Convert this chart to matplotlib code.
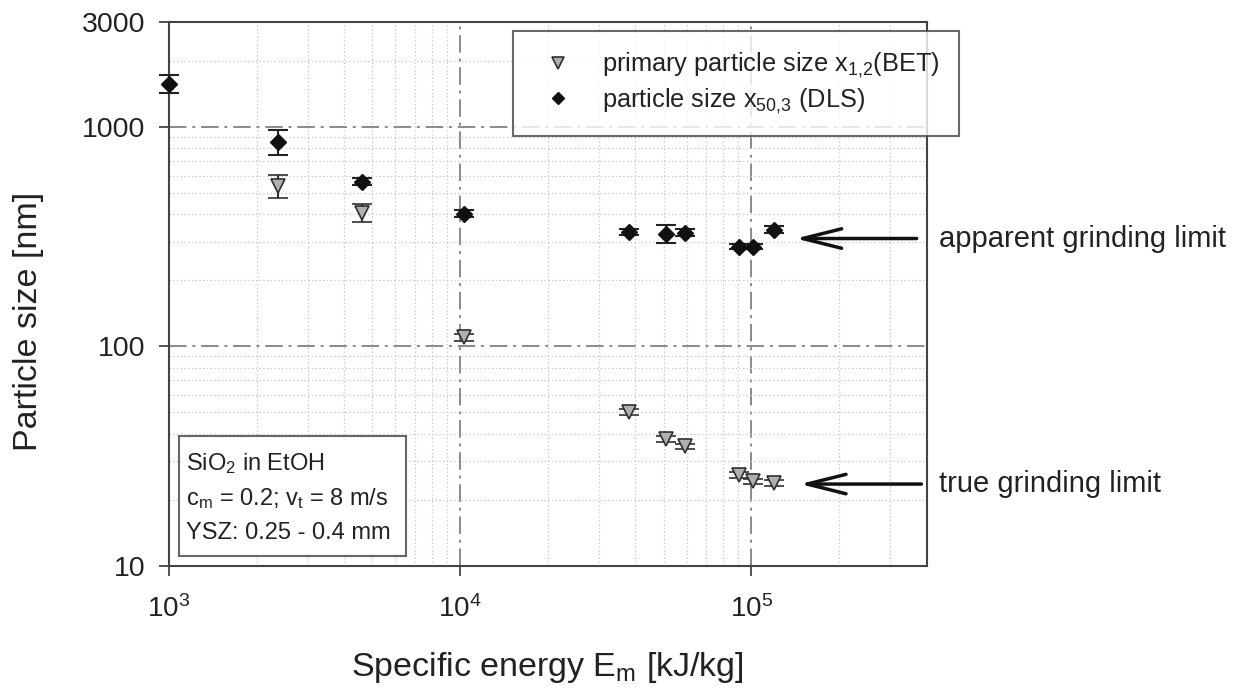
import matplotlib
matplotlib.use("Agg")
import matplotlib.pyplot as plt
from matplotlib.patches import Rectangle
from matplotlib.lines import Line2D
from matplotlib import transforms

# Datos
energia_dls = [1000, 2370, 4600, 10300, 38100, 51000, 59300, 90900, 101600, 120000]
tam_dls = [1570, 855, 562, 402, 333, 326, 330, 285, 285, 340]
err_dls = [150, 110, 20, 15, 10, 30, 12, 8, 8, 12]

energia_bet = [2370, 4600, 10300, 38100, 51000, 59300, 90900, 101600, 120000]
tam_bet = [539, 406, 110, 50.1, 37.8, 35.1, 25.9, 24.3, 23.8]
err_bet = [65, 37, 4, 1.5, 1.2, 1.0, 0.8, 0.7, 0.7]

y_ticks = [10, 100, 1000, 3000]
x_ticks = [1e3, 1e4, 1e5]

plt.rcParams['font.family'] = ['Liberation Sans', 'DejaVu Sans']
plt.rcParams['mathtext.fontset'] = 'custom'
plt.rcParams['mathtext.rm'] = 'Liberation Sans'
plt.rcParams['mathtext.it'] = 'Liberation Sans:italic'
plt.rcParams['mathtext.bf'] = 'Liberation Sans:bold'

texto = '#222222'

fig = plt.figure(figsize=(12.42, 6.91), dpi=100)
ax = fig.add_axes([0.136, 0.181, 0.610, 0.787])
ax.set_xscale('log')
ax.set_yscale('log')
ax.set_xlim(1e3, 4e5)
ax.set_ylim(10, 3000)

# rejilla
ax.grid(True, which='major', color='#8a8a8a', lw=1.4, linestyle=(0, (9, 3, 1.5, 3)))
ax.grid(True, which='minor', color='#c4c4c4', lw=0.9, linestyle=(0, (1, 2)))
ax.set_axisbelow(True)

ax.set_xticks(x_ticks)
ax.set_yticks(y_ticks)
ax.set_yticklabels([str(v) for v in y_ticks])
ax.tick_params(which='major', direction='out', length=7, width=1.3, colors='#444444',
               labelcolor=texto)
ax.tick_params(axis='y', which='major', labelsize=20.5, pad=10)
ax.tick_params(axis='x', which='major', labelsize=20, pad=14)
ax.tick_params(which='minor', length=0)
for s in ax.spines.values():
    s.set_color('#444444')
    s.set_linewidth(1.5)

bet = ax.errorbar(energia_bet, tam_bet, yerr=err_bet, fmt='v', ms=10,
                  mfc='#b0b0b0', mec='#303030', mew=1.2, ecolor='#303030',
                  elinewidth=1.5, capsize=7, capthick=1.5, zorder=3)
dls = ax.errorbar(energia_dls, tam_dls, yerr=err_dls, fmt='D', ms=8,
                  mfc='#111111', mec='#111111', ecolor='#222222',
                  elinewidth=1.5, capsize=7, capthick=1.5, zorder=4)
for cont in (bet, dls):
    for art in cont.lines[0:1] + cont.lines[1] + cont.lines[2]:
        if art is not None:
            art.set_clip_on(False)

ax.set_xlabel('Specific energy E$_\\mathrm{m}$ [kJ/kg]', fontsize=24.5, color=texto)
ax.set_ylabel('Particle size [nm]', fontsize=24.5, color=texto)
ax.xaxis.set_label_coords(0.5, -0.155)
ax.yaxis.set_label_coords(-0.165, 0.45)

# leyenda solo con marcadores
h_bet = Line2D([], [], ls='none', marker='v', ms=8, mfc='#b0b0b0', mec='#303030', mew=1.2)
h_dls = Line2D([], [], ls='none', marker='D', ms=6.5, mfc='#111111', mec='#111111')
leg = fig.legend(handles=[h_bet, h_dls],
                 labels=['primary particle size x$_{1{,}2}$(BET)',
                         'particle size x$_{50{,}3}$ (DLS)'],
                 loc='upper left', bbox_to_anchor=(513 / 1242, 1 - 31 / 691), fontsize=18.3,
                 frameon=True, fancybox=False,
                 handlelength=2.0, handletextpad=0.72, borderpad=0.78,
                 labelspacing=0.24, borderaxespad=0)
leg.get_frame().set_edgecolor('#444444')
leg.get_frame().set_linewidth(1.5)
for t in leg.get_texts():
    t.set_color(texto)

# cuadro con condiciones
ax.add_patch(Rectangle((0.0132, 0.0184), 0.2995, 0.2206, transform=ax.transAxes,
                       fill=True, facecolor='white', edgecolor='#666666', lw=1.5, zorder=5))
lineas = ['SiO$_2$ in EtOH', 'c$_\\mathrm{m}$ = 0.2; v$_\\mathrm{t}$ = 8 m/s', 'YSZ: 0.25 - 0.4 mm']
for txt, yb in zip(lineas, [0.1765, 0.112, 0.0496]):
    ax.text(0.0224, yb, txt, transform=ax.transAxes, fontsize=17, color=texto,
            va='baseline', ha='left', zorder=6)

# flechas de limites
mezcla = transforms.blended_transform_factory(ax.transAxes, ax.transData)
flecha = dict(arrowstyle='->,head_length=2.8,head_width=0.7', lw=2.5, color='#111111',
              shrinkA=0, shrinkB=0)
ax.annotate('', xy=(1.42e5, 310), xytext=(3.7e5, 310), arrowprops=flecha)
ax.annotate('', xy=(1.47e5, 23.6), xytext=(3.84e5, 23.6), arrowprops=flecha)
ax.text(1.017, 310, 'apparent grinding limit', transform=mezcla, fontsize=21,
        color=texto, va='center', ha='left', clip_on=False)
ax.text(1.017, 23.6, 'true grinding limit', transform=mezcla, fontsize=21,
        color=texto, va='center', ha='left', clip_on=False)

fig.savefig('out.png', dpi=100)
